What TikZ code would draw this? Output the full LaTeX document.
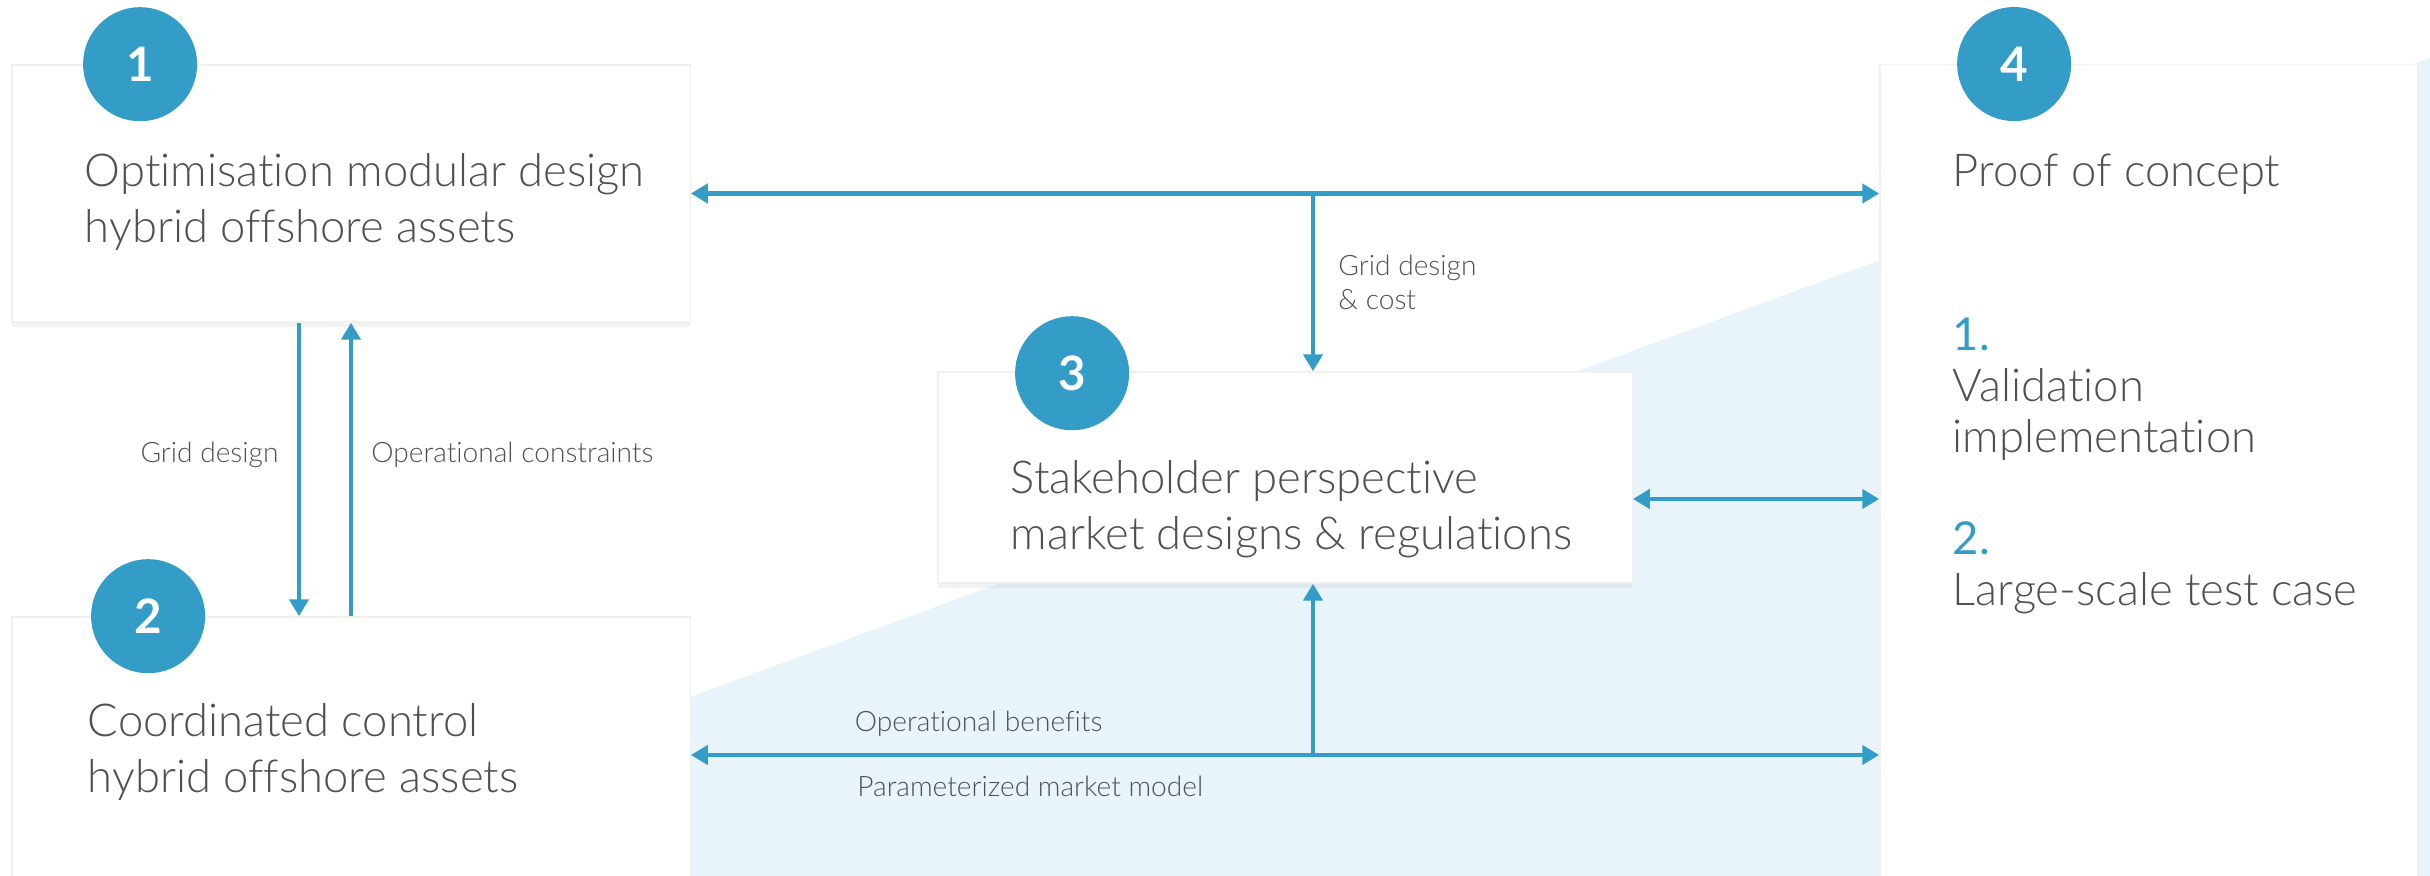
\documentclass[tikz,border=0pt]{standalone}
\usepackage{fontspec}
\setmainfont{Lato}[UprightFont=* Light,BoldFont=* Bold,Ligatures=NoCommon]
\newfontfamily\latoreg{Lato}[Ligatures=NoCommon]
\usetikzlibrary{positioning,calc,arrows.meta,shadows}

\definecolor{hubblue}{HTML}{339DC7}
\definecolor{haze}{HTML}{E8F4F9}
\definecolor{ink}{HTML}{505050}

\tikzset{
  card/.style={draw=black!6,fill=white,inner sep=0pt,
    drop shadow={opacity=0.1,shadow xshift=0pt,shadow yshift=-1.5pt}},
  badge/.style={circle,fill=hubblue,text=white,minimum size=1.14cm,inner sep=0pt,
    font=\fontsize{13.5}{13.5}\selectfont\bfseries},
  title/.style={text=ink,align=left,anchor=west,inner sep=0pt,
    font=\fontsize{12.9}{15.8}\selectfont},
  note/.style={text=ink,align=left,inner sep=0pt,font=\fontsize{8}{9.6}\selectfont},
  link/.style={draw=hubblue,line width=1.4pt,-{Triangle[width=5.4pt,length=4.8pt]}},
  both/.style={link,{Triangle[width=5.4pt,length=4.8pt]}-{Triangle[width=5.4pt,length=4.8pt]}},
}
\newcommand{\stepno}[1]{{\latoreg\color{hubblue}#1}}

\begin{document}
\begin{tikzpicture}[x=0.01cm,y=0.01cm]
\useasboundingbox (0,0) rectangle (2430,876);
% shaded band behind the lower half
\fill[haze] (690,179) -- (2430,818) -- (2430,0) -- (690,0) -- cycle;

\node[card,minimum width=6.78cm,minimum height=2.57cm] (box1) at (351,682.5)  {};
\node[card,minimum width=6.78cm,minimum height=2.79cm] (box2) at (351,119.5)  {};
\node[card,minimum width=6.94cm,minimum height=2.11cm] (box3) at (1285,398.5) {};
\node[card,minimum width=5.38cm,minimum height=8.31cm] (box4) at (2149,395.5) {};

\node[badge] (num1) at ($(box1.north west)+(129,0)$) {1};
\node[badge] (num2) at ($(box2.north west)+(137,0)$) {2};
\node[badge] (num3) at ($(box3.north west)+(135,-2)$) {3};
\node[badge] (num4) at ($(box4.north west)+(135,0)$) {4};

\node[title] (opt)   at ($(box1.north west)+(73,-138)$) {Optimisation modular design\\hybrid offshore assets};
\node[title] (ctrl)  at ($(box2.north west)+(76,-136)$) {Coordinated control\\hybrid offshore assets};
\node[title] (stake) at ($(box3.north west)+(73,-138)$) {Stakeholder perspective\\market designs \& regulations};
\node[title] (proof) at ($(box4.north west)+(73,-110)$) {Proof of concept};
\node[title,font=\fontsize{12.9}{14.5}\selectfont,below=1.22cm of proof.south west,anchor=north west] (steps)
  {\stepno{1.}\\Validation\\implementation\\[14.5pt]\stepno{2.}\\Large-scale test case};

% links between the cards
\coordinate (tap)  at (1313,682);
\coordinate (tapb) at (1313,121);
\path
	([xshift=-0.52cm]box1.south) edge[link] node[note,left=0.18cm,pos=0.45]  {Grid design} ([xshift=-0.52cm]box1.south |- box2.north)
	(box1.south |- box2.north)   edge[link] node[note,right=0.18cm,pos=0.55] {Operational constraints} (box1.south)
	(box1.east)                  edge[both] (box1.east -| box4.west)
	(tap)                        edge[link] node[note,right=0.23cm]         {Grid design\\\& cost} (tap |- box3.north)
	(box3.east |- 0,377)         edge[both] (box4.west |- 0,377)
	(box2.east |- tapb)          edge[both]
	  node[note,anchor=west,pos=0.136,yshift=0.31cm]  {Operational benefits}
	  node[note,anchor=west,pos=0.138,yshift=-0.31cm] {Parameterized market model} (box4.west |- tapb)
	(tapb)                       edge[link] (tapb |- box3.south)
; %-path-%
\end{tikzpicture}
\end{document}
